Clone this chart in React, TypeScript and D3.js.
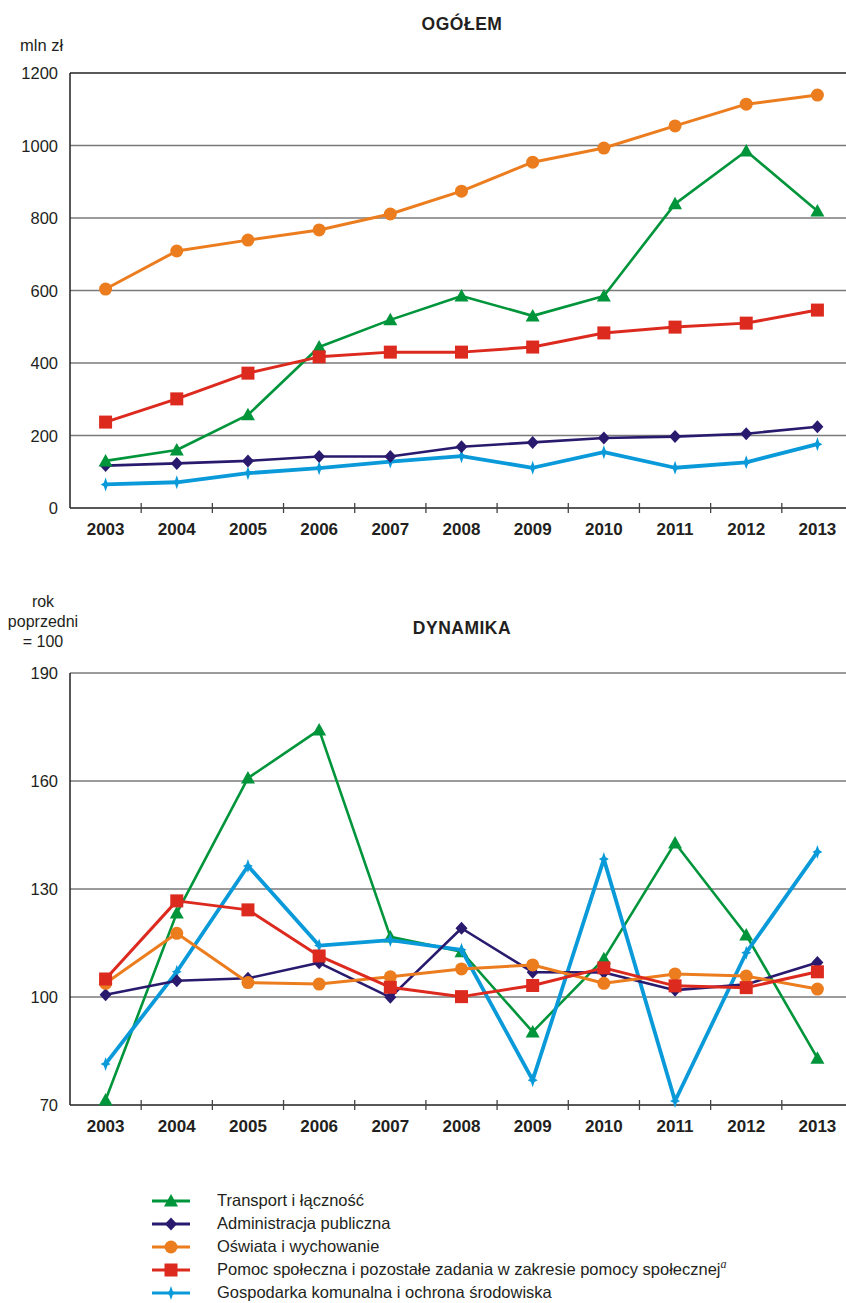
import React from "react";
import * as d3 from "d3";

const years = ["2003","2004","2005","2006","2007","2008","2009","2010","2011","2012","2013"];

const topTicks = [0, 200, 400, 600, 800, 1000, 1200];
const bottomTicks = [70, 100, 130, 160, 190];

// OGÓŁEM (mln zł)
const transportTop = [130, 160, 257, 444, 519, 585, 530, 585, 839, 985, 819];
const adminTop = [117, 123, 130, 142, 142, 169, 181, 193, 197, 205, 224];
const oswiataTop = [604, 709, 739, 767, 811, 874, 954, 993, 1054, 1114, 1139];
const pomocTop = [237, 301, 372, 417, 430, 430, 444, 483, 499, 510, 546];
const gospTop = [65, 71, 96, 110, 128, 143, 111, 154, 111, 126, 176];

// DYNAMIKA (rok poprzedni = 100)
const transportDyn = [71.4, 123.3, 160.8, 174.2, 116.7, 112.6, 90.3, 110.6, 142.8, 117.2, 83];
const adminDyn = [100.6, 104.5, 105.2, 109.5, 99.9, 119.1, 106.9, 106.8, 101.9, 103.5, 109.6];
const oswiataDyn = [103.8, 117.7, 104, 103.6, 105.6, 107.8, 108.9, 103.8, 106.4, 105.8, 102.2];
const pomocDyn = [105, 126.7, 124.2, 111.4, 102.7, 100.1, 103.2, 108.1, 103.1, 102.6, 107];
const gospDyn = [81.4, 107, 136.4, 114.3, 115.8, 113.1, 76.9, 138.3, 71.1, 112.3, 140.3];

const seriesNames = [
  "Transport i łączność",
  "Administracja publiczna",
  "Oświata i wychowanie",
  "Pomoc społeczna i pozostałe zadania w zakresie pomocy społecznej",
  "Gospodarka komunalna i ochrona środowiska",
];
const colors = ["#00953b", "#2a1a6e", "#ec7d1f", "#dc2a1f", "#0a9ad9"];
const markers = ["triangle", "diamond", "circle", "square", "star"];
const widths = [2.6, 2.6, 3, 3, 3.8];

const FONT = "'Liberation Sans', Arial, sans-serif";

function Marker({ type, x, y, color }: { type: string; x: number; y: number; color: string }) {
  if (type === "circle") return <circle cx={x} cy={y} r={6.5} fill={color} />;
  if (type === "square") return <rect x={x - 6.5} y={y - 6.5} width={13} height={13} fill={color} />;
  if (type === "triangle")
    return <path d={`M${x},${y - 7} L${x + 7},${y + 5.5} L${x - 7},${y + 5.5} Z`} fill={color} />;
  if (type === "diamond")
    return <path d={`M${x},${y - 6.5} L${x + 6},${y} L${x},${y + 6.5} L${x - 6},${y} Z`} fill={color} />;
  return (
    <path
      d={`M${x},${y - 7} L${x + 1.8},${y - 1.8} L${x + 5},${y} L${x + 1.8},${y + 1.8} L${x},${y + 7} L${x - 1.8},${y + 1.8} L${x - 5},${y} L${x - 1.8},${y - 1.8} Z`}
      fill={color}
    />
  );
}

function Chart({
  top,
  bottom,
  domain,
  ticks,
  data,
  order,
}: {
  top: number;
  bottom: number;
  domain: [number, number];
  ticks: number[];
  data: number[][];
  order: number[];
}) {
  const x = d3.scaleBand<string>().domain(years).range([70, 853]);
  const y = d3.scaleLinear().domain(domain).range([bottom, top]);
  const line = d3
    .line<number>()
    .x((_, i) => (x(years[i]) as number) + x.bandwidth() / 2)
    .y((d) => y(d));
  return (
    <g>
      {ticks.map((t, i) => (
        <g key={t}>
          {i > 0 && (
            <line
              x1={70}
              x2={846}
              y1={y(t)}
              y2={y(t)}
              stroke={i === ticks.length - 1 && domain[1] === 1200 ? "#222" : "#7a7a7a"}
              strokeWidth={1.3}
            />
          )}
          <text x={58} y={y(t) + 6} textAnchor="end" fontSize={16.5} fill="#231f20" fontFamily={FONT}>
            {t}
          </text>
        </g>
      ))}
      <line x1={70} x2={70} y1={top} y2={bottom} stroke="#231f20" strokeWidth={1.5} />
      <line x1={70} x2={846} y1={bottom} y2={bottom} stroke="#231f20" strokeWidth={1.5} />
      {years.map((yr, i) => (
        <g key={yr}>
          {i > 0 && (
            <line
              x1={x(yr)}
              x2={x(yr)}
              y1={bottom - 5}
              y2={bottom + 5}
              stroke="#444"
              strokeWidth={1.3}
            />
          )}
          <text
            x={(x(yr) as number) + x.bandwidth() / 2}
            y={bottom + 27}
            textAnchor="middle"
            fontSize={17}
            fontWeight="bold"
            fill="#231f20"
            fontFamily={FONT}
          >
            {yr}
          </text>
        </g>
      ))}
      {order.map((s) => (
        <g key={s}>
          <path d={line(data[s]) as string} fill="none" stroke={colors[s]} strokeWidth={widths[s]} strokeLinejoin="round" />
          {data[s].map((v, i) => (
            <Marker
              key={i}
              type={markers[s]}
              x={(x(years[i]) as number) + x.bandwidth() / 2}
              y={y(v)}
              color={colors[s]}
            />
          ))}
        </g>
      ))}
    </g>
  );
}

export default function App() {
  const legendY = [1201, 1224, 1247, 1270, 1293];
  return (
    <svg width={846} height={1303} style={{ position: "absolute", left: 0, top: 0 }} fontFamily={FONT}>
      <rect width={846} height={1303} fill="#fff" />
      <text x={462} y={30} textAnchor="middle" fontSize={17.5} fontWeight="bold" fill="#231f20" letterSpacing={0.5}>
        OGÓŁEM
      </text>
      <text x={20} y={51} fontSize={16.5} fill="#231f20">
        mln zł
      </text>
      <Chart
        top={73}
        bottom={508}
        domain={[0, 1200]}
        ticks={topTicks}
        data={[transportTop, adminTop, oswiataTop, pomocTop, gospTop]}
        order={[4, 1, 0, 3, 2]}
      />
      <text textAnchor="middle" fontSize={16} fill="#231f20">
        <tspan x={43} y={607}>rok</tspan>
        <tspan x={43} y={627}>poprzedni</tspan>
        <tspan x={43} y={647}>= 100</tspan>
      </text>
      <text x={462} y={634} textAnchor="middle" fontSize={17.5} fontWeight="bold" fill="#231f20" letterSpacing={0.5}>
        DYNAMIKA
      </text>
      <Chart
        top={673}
        bottom={1105}
        domain={[70, 190]}
        ticks={bottomTicks}
        data={[transportDyn, adminDyn, oswiataDyn, pomocDyn, gospDyn]}
        order={[0, 4, 1, 2, 3]}
      />
      {seriesNames.map((n, i) => (
        <g key={n}>
          <line x1={152} x2={190} y1={legendY[i]} y2={legendY[i]} stroke={colors[i]} strokeWidth={3} />
          <Marker type={markers[i]} x={171} y={legendY[i]} color={colors[i]} />
          <text x={217} y={legendY[i] + 4.5} fontSize={16.5} fill="#231f20">
            {n}
            {i === 3 && (
              <tspan fontFamily="'Liberation Serif', serif" fontStyle="italic" fontSize={12} dy={-7}>
                a
              </tspan>
            )}
          </text>
        </g>
      ))}
    </svg>
  );
}
